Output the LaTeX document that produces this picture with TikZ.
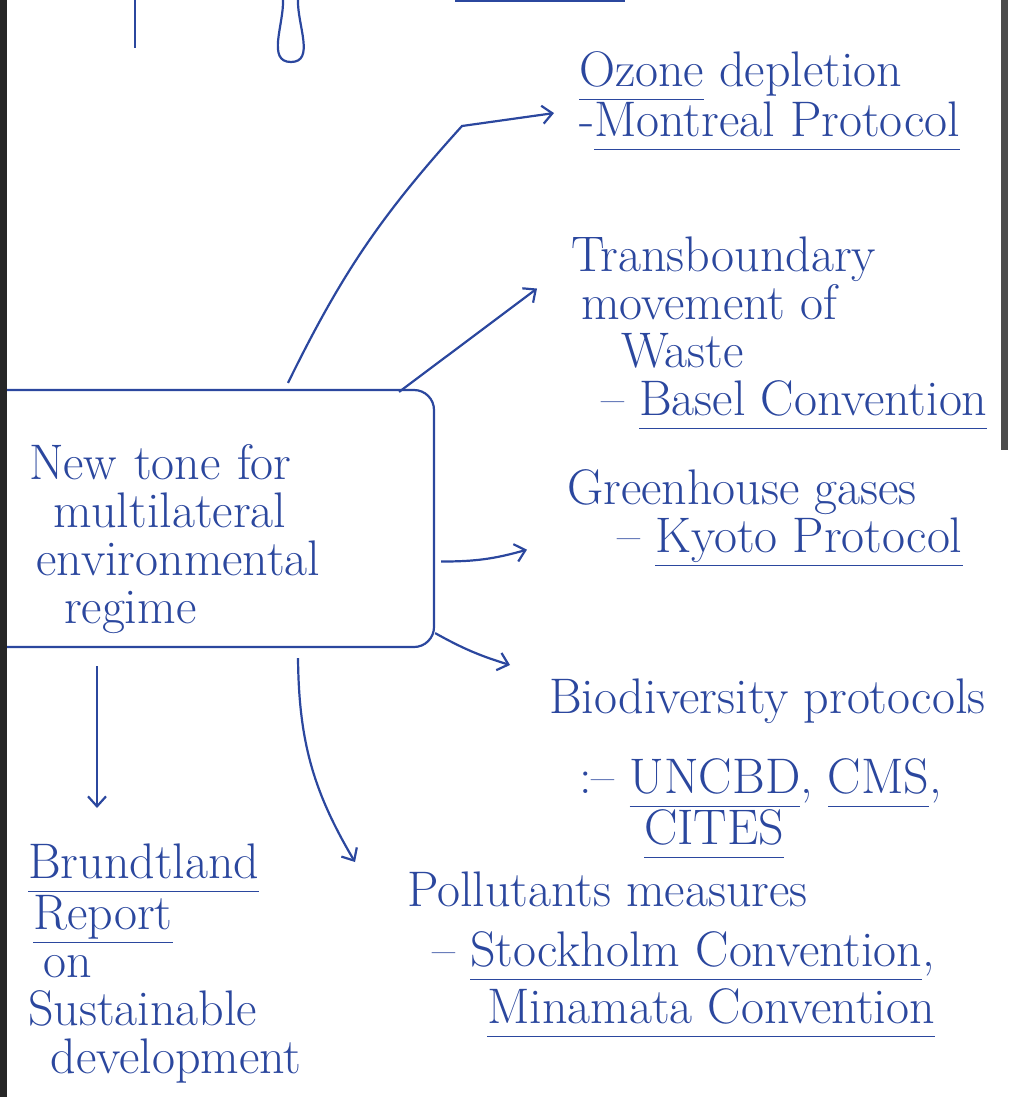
\documentclass[tikz,border=0pt]{standalone}
\usepackage{tikz}
\usetikzlibrary{arrows.meta,positioning,calc}
\definecolor{penColor}{HTML}{2B479E}
\newcommand{\lined}[1]{\underline{#1\vphantom{y}}}
\tikzset{
	inkbox/.style={draw, rounded corners=10pt, inner xsep=26.5pt, inner ysep=0pt,
		text width=176pt, minimum height=128.5pt, align=left},
	inktext/.style={anchor=north west, inner sep=0pt, align=left},
}

\begin{document}
\begin{tikzpicture}[->,>={Straight Barb[length=5pt,width=9pt]}, x=0.5pt, y=-0.5pt,
	line width=1.1pt, color=penColor, font=\fontsize{25}{24}\selectfont]
	\useasboundingbox (0,0) rectangle (1008,1097);
	\node[inkbox] (box) at (205,518.5) {\rule{0pt}{38pt}New tone for\\
		\hspace*{0.5em}multilateral\\ \hspace*{0.15em}environmental\\ \hspace*{0.7em}regime};
	% page edges and what is left of the line above
	\fill[black!85] (0,0) rectangle (7,1097);
	\fill[black!70] (1001,0) rectangle (1008,450);
	\draw[-] (135,0) -- (135,48);
	\draw[-] (283,0) to[out=-88,in=180] (291,62) to[out=0,in=-92] (298,0);
	\draw[-] (455,1) -- (625,1);

	\node[inktext] (ozone) at (578,50) {\lined{Ozone} depletion\\ -\lined{Montreal Protocol}};
	\node[inktext] (waste) at (570,236) {Transboundary\\ \hspace*{0.2em}movement of\\
		\hspace*{1em}Waste\\ \hspace*{0.6em}-- \lined{Basel Convention}};
	\node[inktext] (ghg) at (566,468) {Greenhouse gases\\ \hspace*{1em}-- \lined{Kyoto Protocol}};
	\node[inktext] (bio) at (548,678) {Biodiversity protocols\\[16pt]
		\hspace*{0.6em}:-- \lined{UNCBD}, \lined{CMS},\\ \hspace*{1.9em}\lined{CITES}};
	\node[inktext] (poll) at (406,871) {Pollutants measures\\[6pt]
		\hspace*{0.5em}-- \lined{Stockholm Convention},\\[3pt] \hspace*{1.6em}\lined{Minamata Convention}};
	\node[inktext] (brundt) at (27,843) {\lined{Brundtland}\\ \hspace*{0.1em}\lined{Report}\\
		\hspace*{0.3em}on\\ Sustainable\\ \hspace*{0.45em}development};

	\coordinate (ozbend) at (462,126);
	\draw ([xshift=41.5pt,yshift=3pt]box.north) to[bend left=8] (ozbend) -- ([xshift=-12pt,yshift=-6pt]ozone.west);
	\path ([xshift=-18pt,yshift=-1.5pt]box.north east) edge ([xshift=-16.5pt,yshift=22.5pt]waste.west);
	\path ([xshift=3pt,yshift=-21.5pt]box.east) edge[bend right=8] ([xshift=-19.5pt,yshift=-16pt]ghg.west);
	\path ([yshift=7.5pt]box.south east) edge[bend right=6] ([xshift=-19pt,yshift=6.5pt]bio.north west);
	\path ([xshift=46.5pt,yshift=-5pt]box.south) edge[bend right=15] ([xshift=-25.5pt,yshift=4.5pt]poll.north west);
	\path ([xshift=-54pt,yshift=-9pt]box.south) edge ([xshift=35pt,yshift=17.5pt]brundt.north west);
\end{tikzpicture}
\end{document}
